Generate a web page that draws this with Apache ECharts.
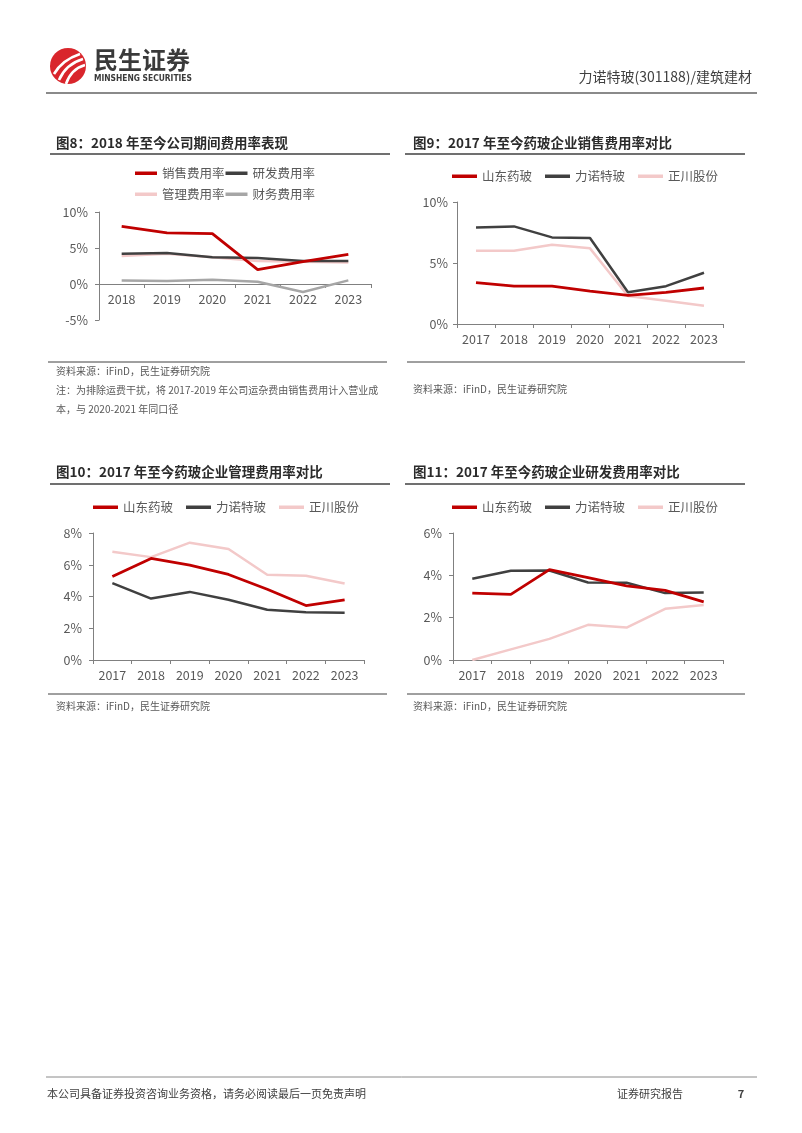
<!DOCTYPE html>
<html><head><meta charset="utf-8">
<script src="https://cdn.jsdelivr.net/npm/echarts@6/dist/echarts.min.js"></script>
<style>html,body{margin:0;padding:0;background:#fff}#c{width:802px;height:1133px}</style>
</head><body><div id="c"></div><script>
// ---------- data ----------
const years8 = ['2018','2019','2020','2021','2022','2023'];
const years = ['2017','2018','2019','2020','2021','2022','2023'];
// 图8 (%)
const sales8 = [8.0, 7.1, 7.0, 2.0, 3.1, 4.1];
const rd8    = [4.2, 4.3, 3.7, 3.6, 3.2, 3.2];
const admin8 = [3.9, 4.2, 3.7, 3.2, 3.1, 3.0];
const fin8   = [0.5, 0.4, 0.6, 0.3, -1.1, 0.5];
// 图9 销售费用率 (%)
const sdyb9 = [3.4, 3.1, 3.1, 2.7, 2.35, 2.6, 2.95];
const lnt9  = [7.9, 8.0, 7.1, 7.05, 2.6, 3.1, 4.2];
const zc9   = [6.0, 6.0, 6.5, 6.2, 2.3, 1.9, 1.5];
// 图10 管理费用率 (%)
const sdyb10 = [5.26, 6.4, 5.98, 5.39, 4.46, 3.43, 3.79];
const lnt10  = [4.84, 3.87, 4.29, 3.79, 3.16, 3.01, 2.97];
const zc10   = [6.82, 6.48, 7.39, 6.99, 5.37, 5.31, 4.82];
// 图11 研发费用率 (%)
const sdyb11 = [3.16, 3.1, 4.27, 3.89, 3.5, 3.29, 2.75];
const lnt11  = [3.84, 4.22, 4.23, 3.66, 3.65, 3.16, 3.19];
const zc11   = [0, 0.5, 1.0, 1.66, 1.53, 2.42, 2.6];

const names8 = ['销售费用率','研发费用率','管理费用率','财务费用率'];
const coNames = ['山东药玻','力诺特玻','正川股份'];
const yTicks8 = {min:-5, max:10, interval:5};
const yTicks9 = {min:0, max:10, interval:5};
const yTicks10 = {min:0, max:8, interval:2};
const yTicks11 = {min:0, max:6, interval:2};

// ---------- style ----------
const FF = '"Noto Sans CJK SC","Noto Sans",sans-serif';
const RED = '#C00000', DARK = '#404040', PINK = '#F3C9C9', GRAY = '#A6A6A6';
const LBL = '#595959', AX = '#808080';

const chart = echarts.init(document.getElementById('c'), null, {renderer:'canvas'});

const grids = [
  {left:99, top:212, width:272, height:108},
  {left:457, top:202, width:266, height:122},
  {left:93, top:533, width:271, height:127},
  {left:453, top:533, width:270, height:127}
];
function xA(gi, cats, m){
  return {type:'category', gridIndex:gi, data:cats, boundaryGap:true,
    axisLine:{lineStyle:{color:AX, width:1}},
    axisTick:{show:true, length:4, lineStyle:{color:AX}},
    axisLabel:{color:LBL, fontSize:12.5, fontFamily:FF, margin:m}};
}
function yA(gi, t, m){
  return {type:'value', gridIndex:gi, min:t.min, max:t.max, interval:t.interval,
    axisLine:{show:true, lineStyle:{color:AX, width:1}},
    axisTick:{show:true, length:4, lineStyle:{color:AX}},
    splitLine:{show:false},
    axisLabel:{color:LBL, fontSize:12.5, fontFamily:FF, margin:m, formatter:'{value}%'}};
}
function ser(name, gi, data, color, w){
  return {type:'line', name:name, xAxisIndex:gi, yAxisIndex:gi, data:data,
    symbol:'none', smooth:false, lineStyle:{color:color, width:w||2.5},
    itemStyle:{color:color}, emphasis:{disabled:true}, animation:false};
}
function leg(names, left, top, iw, gap){
  return {data:names, left:left, top:top, icon:'rect', itemWidth:iw, itemHeight:3.5,
    itemGap:gap, selectedMode:false,
    textStyle:{color:LBL, fontSize:12.5, fontFamily:FF}};
}

function T(text, x, y, opt){
  opt = opt || {};
  return {type:'text', silent:true, style:{text:text, x:x, y:y,
    fill:opt.fill||LBL, font:opt.font||('10px '+FF),
    align:opt.align||'left', verticalAlign:'middle'}};
}
function L(x1,y1,x2,y2,c,w){
  return {type:'line', silent:true, shape:{x1:x1,y1:y1,x2:x2,y2:y2}, style:{stroke:c, lineWidth:w}};
}
const titleFont = 'bold 13.5px ' + FF;
const graphics = [
  // logo
  {type:'circle', silent:true, shape:{cx:68, cy:66, r:18}, style:{fill:'#D9262C'}},
  {type:'bezierCurve', silent:true, shape:{x1:54,y1:74,x2:80,y2:54,cpx1:62,cpy1:60}, style:{stroke:'#fff', lineWidth:2.6, fill:null}},
  {type:'bezierCurve', silent:true, shape:{x1:59,y1:80,x2:83,y2:59,cpx1:66,cpy1:64}, style:{stroke:'#fff', lineWidth:2.6, fill:null}},
  {type:'bezierCurve', silent:true, shape:{x1:66,y1:84,x2:85,y2:65,cpx1:71,cpy1:69}, style:{stroke:'#fff', lineWidth:2.6, fill:null}},
  T('民生证券', 94, 60, {font:'bold 24px '+FF, fill:'#3a3a3a'}),
  T('MINSHENG SECURITIES', 94, 79, {font:'bold 8.4px "Liberation Sans Narrow","DejaVu Sans Condensed",sans-serif', fill:'#3a3a3a'}),
  T('力诺特玻(301188)/建筑建材', 752, 77, {font:'14px '+FF, fill:'#404040', align:'right'}),
  L(46,93,757,93,'#8a8a8a',2),
  // titles
  T('图8：2018 年至今公司期间费用率表现', 56, 143, {font:titleFont, fill:'#2b2b2b'}),
  T('图9：2017 年至今药玻企业销售费用率对比', 413, 143, {font:titleFont, fill:'#2b2b2b'}),
  T('图10：2017 年至今药玻企业管理费用率对比', 56, 472, {font:titleFont, fill:'#2b2b2b'}),
  T('图11：2017 年至今药玻企业研发费用率对比', 413, 472, {font:titleFont, fill:'#2b2b2b'}),
  L(50,154,390,154,'#404040',1.3), L(405,154,745,154,'#404040',1.3),
  L(50,484,390,484,'#404040',1.3), L(405,484,745,484,'#404040',1.3),
  // sources
  L(48,362,387,362,'#404040',1), L(407,362,745,362,'#404040',1),
  L(48,694,387,694,'#404040',1), L(407,694,745,694,'#404040',1),
  T('资料来源：iFinD，民生证券研究院', 56, 371),
  T('注：为排除运费干扰，将 2017-2019 年公司运杂费由销售费用计入营业成', 56, 390),
  T('本，与 2020-2021 年同口径', 56, 409),
  T('资料来源：iFinD，民生证券研究院', 413, 389),
  T('资料来源：iFinD，民生证券研究院', 56, 706),
  T('资料来源：iFinD，民生证券研究院', 413, 706),
  // footer
  L(46,1077,757,1077,'#8a8a8a',1),
  T('本公司具备证券投资咨询业务资格，请务必阅读最后一页免责声明', 47, 1094, {font:'11px '+FF, fill:'#404040'}),
  T('证券研究报告', 617, 1094, {font:'11px '+FF, fill:'#404040'}),
  T('7', 741, 1094, {font:'bold 11px '+FF, fill:'#404040', align:'center'})
];

chart.setOption({
  backgroundColor:'#fff',
  animation:false,
  grid:grids,
  xAxis:[xA(0,years8,-27), xA(1,years,9), xA(2,years,9), xA(3,years,9)],
  yAxis:[yA(0,yTicks8,11), yA(1,yTicks9,9), yA(2,yTicks10,11), yA(3,yTicks11,11)],
  legend:[
    leg([names8[0],names8[1]], 130, 162, 22, 1),
    leg([names8[2],names8[3]], 130, 183, 22, 1),
    leg(coNames, 447, 165, 25, 13),
    leg(coNames, 88, 496, 25, 13),
    leg(coNames, 447, 496, 25, 13)
  ],
  series:[
    ser(names8[3],0,fin8,GRAY),
    ser(names8[2],0,admin8,PINK),
    ser(names8[1],0,rd8,DARK),
    ser(names8[0],0,sales8,RED,2.8),
    ser(coNames[2],1,zc9,PINK),
    ser(coNames[1],1,lnt9,DARK),
    ser(coNames[0],1,sdyb9,RED,2.8),
    ser(coNames[2],2,zc10,PINK),
    ser(coNames[1],2,lnt10,DARK),
    ser(coNames[0],2,sdyb10,RED,2.8),
    ser(coNames[2],3,zc11,PINK),
    ser(coNames[1],3,lnt11,DARK),
    ser(coNames[0],3,sdyb11,RED,2.8)
  ],
  graphic:graphics
});
</script></body></html>
